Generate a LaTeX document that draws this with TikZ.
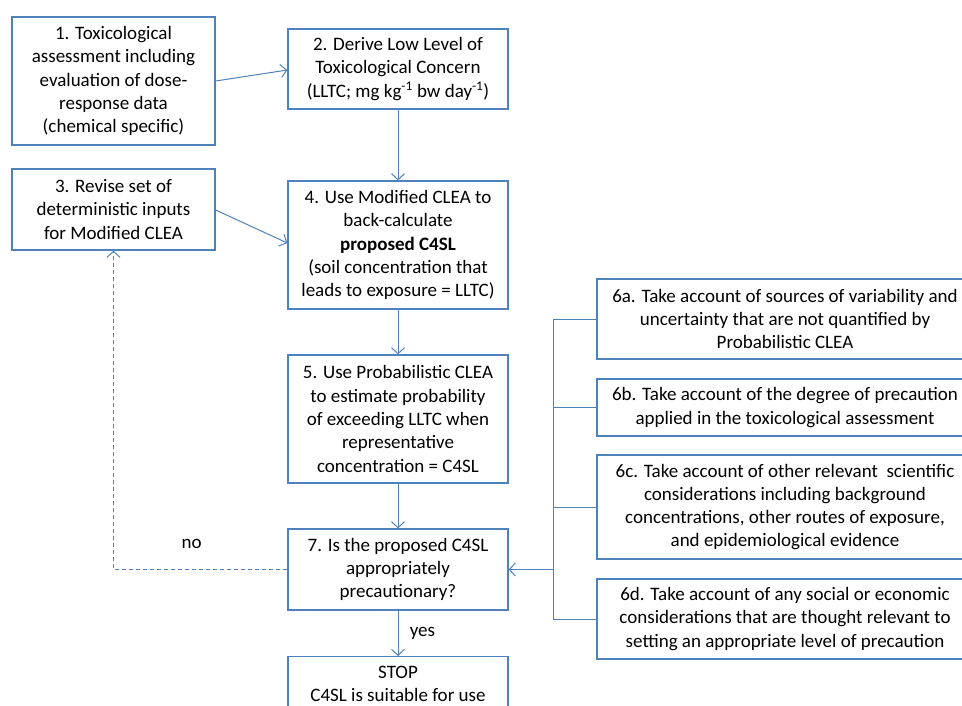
\documentclass[tikz,border=0pt]{standalone}
\usepackage{fontspec}
\setmainfont{Carlito}
\usetikzlibrary{arrows.meta}
\definecolor{flowblue}{RGB}{79,129,189}
\begin{document}
\begin{tikzpicture}[x=1pt,y=-1pt,
    box/.style={draw=flowblue,line width=1.3pt,align=center,inner sep=0pt,
      font=\fontsize{19}{23.3}\selectfont},
    mainbox/.style={box,minimum width=220pt},
    sidebox/.style={box,minimum width=376pt},
    link/.style={draw=flowblue,line width=1pt},
    arr/.style={link,-{Straight Barb[length=6pt,width=13pt]}},
    lbl/.style={font=\fontsize{19}{23.3}\selectfont}]
  \useasboundingbox (0,0) rectangle (962,705);
  % left column
  \node[box,minimum width=203pt,minimum height=128pt] (tox) at (113.5,81)
    {1. Toxicological\\assessment including\\evaluation of dose-\\response data\\(chemical specific)};
  \node[box,minimum width=203pt,minimum height=81pt] (revise) at (113.5,209.5)
    {3. Revise set of\\deterministic inputs\\for Modified CLEA};
  % main column
  \node[mainbox,minimum height=80pt] (lltc) at (398,69)
    {2. Derive Low Level of\\Toxicological Concern\\(LLTC; mg kg\textsuperscript{-1} bw day\textsuperscript{-1})};
  \node[mainbox,minimum height=128pt] (modclea) at (398,245)
    {4. Use Modified CLEA to\\back-calculate\\\textbf{proposed C4SL}\\(soil concentration that\\leads to exposure = LLTC)};
  \node[mainbox,minimum height=128pt] (probclea) at (398,419)
    {5. Use Probabilistic CLEA\\to estimate probability\\of exceeding LLTC when\\representative\\concentration = C4SL};
  \node[mainbox,minimum height=81pt] (check) at (398,569.5)
    {7. Is the proposed C4SL\\appropriately\\precautionary?};
  \node[mainbox,minimum height=81pt,anchor=north] (stop) at (398,656)
    {\strut STOP\\C4SL is suitable for use\\\strut};
  % right column
  \node[sidebox,minimum height=80pt] (varia) at (785,319)
    {6a. Take account of sources of variability and\\uncertainty that are not quantified by\\Probabilistic CLEA};
  \node[sidebox,minimum height=57pt] (precau) at (785,407.5)
    {6b. Take account of the degree of precaution\\applied in the toxicological assessment};
  \node[sidebox,minimum height=104pt] (scien) at (785,507)
    {6c. Take account of other relevant\ \ scientific\\considerations including background\\concentrations, other routes of exposure,\\and epidemiological evidence};
  \node[sidebox,minimum height=80pt] (social) at (785,619)
    {6d. Take account of any social or economic\\considerations that are thought relevant to\\setting an appropriate level of precaution};
  % connectors
  \draw[arr] (tox.east |- 0,81) -- (lltc.west |- 0,70);
  \draw[arr] (revise.east |- 0,210) -- (modclea.west |- 0,243);
  \draw[arr] (lltc) -- (modclea);
  \draw[arr] (modclea) -- (probclea);
  \draw[arr] (probclea) -- (check);
  \draw[arr] (check) -- (stop) node[lbl,midway,right=8pt]{yes};
  \draw[arr,dash pattern=on 4pt off 3pt] (check.west) -- (revise.south |- check.west)
    node[lbl,pos=0.55,yshift=26pt]{no} -- (revise.south);
  \coordinate (fork) at (553,569.5);
  \draw[link] (varia.west) -- (varia.west -| fork) -- (social.west -| fork) -- (social.west);
  \draw[link] (precau.west) -- (precau.west -| fork);
  \draw[link] (scien.west) -- (scien.west -| fork);
  \draw[arr] (fork) -- (check.east);
\end{tikzpicture}
\end{document}
